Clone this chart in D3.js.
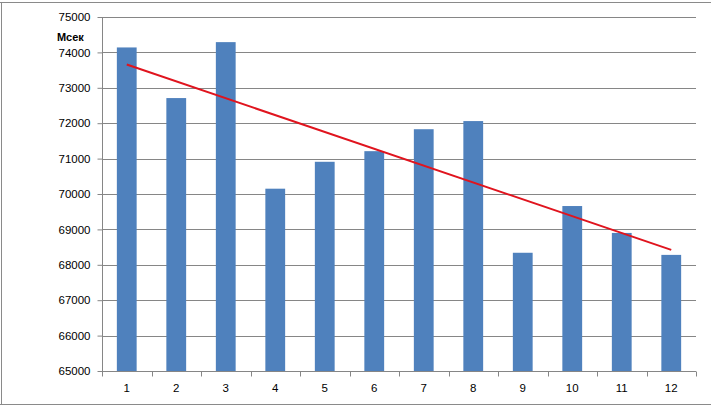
<!DOCTYPE html>
<html>
<head>
<meta charset="utf-8">
<script src="https://cdn.jsdelivr.net/npm/d3@7"></script>
<style>
  html, body { margin: 0; padding: 0; background: #fff; }
  svg { display: block; }
  text { font-family: "Liberation Sans", Arial, sans-serif; fill: #000; }
</style>
</head>
<body>
<svg id="chart" width="711" height="407"></svg>
<script>
const categories = ["1","2","3","4","5","6","7","8","9","10","11","12"];
const values = [74140, 72710, 74290, 70150, 70910, 71210, 71830, 72060, 68340, 69660, 68900, 68280];
const yTicks = [65000, 66000, 67000, 68000, 69000, 70000, 71000, 72000, 73000, 74000, 75000];
const yUnit = "Мсек";

(function () {
const svg = d3.select("#chart");
const pLeft = 102, pRight = 696, pTop = 17, pBottom = 371;

// outer frame fragments (worksheet border)
svg.append("line").attr("x1", 0).attr("x2", 711).attr("y1", 2.5).attr("y2", 2.5).attr("stroke", "#8a8a8a");
svg.append("line").attr("x1", 1.5).attr("x2", 1.5).attr("y1", 2.5).attr("y2", 404.5).attr("stroke", "#8a8a8a");
svg.append("line").attr("x1", 0).attr("x2", 711).attr("y1", 404.5).attr("y2", 404.5).attr("stroke", "#8a8a8a");

const x = d3.scaleBand().domain(categories).range([pLeft, pRight]).paddingInner(0.6).paddingOuter(0.3);
const y = d3.scaleLinear().domain([65000, 75000]).range([pBottom, pTop]);

// gridlines
svg.append("g").selectAll("line").data(yTicks.slice(1)).join("line")
  .attr("x1", pLeft).attr("x2", pRight)
  .attr("y1", d => Math.round(y(d)) + 0.5).attr("y2", d => Math.round(y(d)) + 0.5)
  .attr("stroke", "#868686").attr("stroke-width", 1);

// bars
svg.append("g").selectAll("rect").data(values).join("rect")
  .attr("x", (d, i) => x(categories[i]))
  .attr("width", x.bandwidth())
  .attr("y", d => y(d))
  .attr("height", d => y(65000) - y(d))
  .attr("fill", "#4F81BD");

// linear trend line (least squares)
const n = values.length;
const xs = d3.range(1, n + 1);
const mx = d3.mean(xs), my = d3.mean(values);
const slope = d3.sum(xs, (xv, i) => (xv - mx) * (values[i] - my)) / d3.sum(xs, xv => (xv - mx) ** 2);
const icpt = my - slope * mx;
const trend = [1, n].map(xv => [x(categories[xv - 1]) + x.bandwidth() / 2, y(icpt + slope * xv)]);
svg.append("path").attr("d", d3.line()(trend)).attr("stroke", "#E0141E").attr("stroke-width", 2).attr("fill", "none");

// y axis
const yAxis = svg.append("g").attr("transform", `translate(${pLeft + 0.5},0)`)
  .call(d3.axisLeft(y).tickValues(yTicks).tickSize(5).tickPadding(7).tickFormat(d3.format("d")));
yAxis.select(".domain").attr("stroke", "#868686").attr("d", `M0,${pTop}V${pBottom}`);
yAxis.selectAll(".tick line").attr("stroke", "#868686");
yAxis.selectAll("text").style("font-size", "11.5px").attr("fill", "#000");

// x axis
const xAxis = svg.append("g").attr("transform", `translate(0,${pBottom + 0.5})`)
  .call(d3.axisBottom(x).tickSize(0).tickPadding(12));
xAxis.select(".domain").attr("stroke", "#868686").attr("d", `M${pLeft},0H${pRight}`);
xAxis.selectAll("text").style("font-size", "11.5px").attr("fill", "#000");
const step = x.step();
xAxis.append("g").selectAll("line").data(d3.range(categories.length + 1)).join("line")
  .attr("x1", i => Math.round(pLeft + i * step) + 0.5).attr("x2", i => Math.round(pLeft + i * step) + 0.5)
  .attr("y1", 0).attr("y2", 5).attr("stroke", "#868686");

// unit label
svg.append("text").attr("x", 57).attr("y", 41).text(yUnit)
  .style("font-size", "11px").style("font-weight", "bold");
})();
</script>
</body>
</html>
